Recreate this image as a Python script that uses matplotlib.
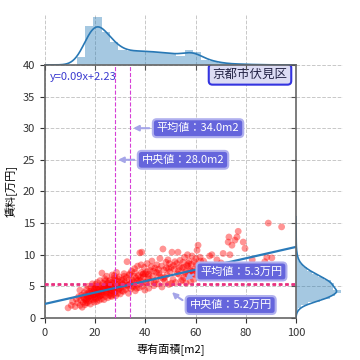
import numpy as np
import matplotlib
matplotlib.use('Agg')
import matplotlib.pyplot as plt

plt.rcParams['font.family'] = ['Noto Sans CJK JP', 'DejaVu Sans']

# 散布図データ (専有面積, 賃料)
area = [9.2, 10.5, 11.0, 12.0, 12.5, 13.0, 13.5, 13.9, 14.0, 14.3, 14.6, 14.8,
        15.2, 15.4, 15.6, 15.9, 16.1, 16.3, 16.5, 16.7, 16.9, 17.1, 17.2, 17.4,
        17.6, 17.8, 18.0, 18.1, 18.3, 18.5, 18.7, 18.9, 19.0, 19.2, 19.4, 19.6,
        19.8, 19.9, 20.0, 20.1, 20.3, 20.4, 20.6, 20.8, 20.9, 21.1, 21.2, 21.4,
        21.6, 21.7, 21.9, 22.0,
        22.2, 22.3, 22.5, 22.7, 22.8, 23.0, 23.1, 23.3, 23.5, 23.6, 23.8, 24.0,
        24.1, 24.3, 24.5, 24.6, 24.8, 25.0, 25.1, 25.3, 25.5, 25.6, 25.8, 26.0,
        26.1, 26.3, 26.5, 26.6, 26.8, 27.0, 27.2, 27.3, 27.5, 27.7, 27.9, 28.0,
        28.2, 28.4, 28.5, 28.7, 28.9, 29.1, 29.3, 29.5, 29.7,
        30.0, 30.3, 30.6, 30.9, 31.2, 31.5, 31.8, 32.1, 32.4, 32.7, 33.0, 33.3,
        33.6, 33.9, 34.2, 34.5, 34.8, 35.1, 35.4, 35.7, 36.0, 36.3, 36.6, 36.9,
        37.2, 37.5, 37.8, 38.1, 38.4, 38.6, 38.9, 39.2, 39.5, 39.8, 40.0,
        40.3, 40.7, 41.0, 41.4, 41.8, 42.2, 42.6, 43.0, 43.4, 43.8, 44.2, 44.6,
        45.0, 45.4, 45.8, 46.2, 46.6, 47.0, 47.4, 47.8, 48.2, 48.6, 49.0, 49.4,
        49.8, 50.2, 50.6, 51.0, 51.5, 52.0,
        52.5, 53.0, 53.4, 53.8, 54.2, 54.6, 55.0, 55.3, 55.6, 55.9, 56.2, 56.5,
        56.8, 57.1, 57.4, 57.7, 58.0, 58.3, 58.6, 58.9, 59.2, 59.5, 59.8, 60.1,
        60.6, 61.0, 61.4, 61.8, 62.2, 62.6,
        63.2, 63.8, 64.4, 65.0, 65.6, 66.5, 67.0, 67.8, 68.5, 69.3, 70.2, 71.0,
        72.0, 73.0, 73.7,
        73.3, 74.5, 75.7, 76.5, 77.0, 79.0, 79.7, 82.6, 87.6, 88.4, 89.0, 90.4, 94.3,
        # 密集部の追加
        15.8, 16.9, 17.9, 18.6, 19.3, 19.7, 20.5, 21.0, 21.5, 22.1, 22.6, 23.2,
        23.9, 24.4, 24.9, 25.4, 25.9, 26.4, 26.9, 27.4, 28.1, 28.8, 29.6, 30.5,
        31.4, 32.3, 33.5, 34.4, 35.6, 36.8, 38.0, 39.3, 41.2, 43.2, 45.2, 47.2,
        49.2, 51.2, 53.2, 55.2, 57.2, 59.0, 61.2,
        29.0, 30.8, 31.6, 32.8, 33.8, 34.9, 35.9, 36.5, 37.4, 38.3, 39.0, 39.9,
        40.6, 41.5, 42.4, 43.5, 44.4, 45.6, 46.4, 47.6, 48.4, 49.6, 50.4, 51.8,
        52.8, 53.6, 54.8, 56.0, 57.0, 58.2, 59.6, 60.4, 62.0, 64.0, 66.0,
        16.4, 18.4, 20.2, 22.4, 24.2, 26.2, 27.6]
rent = [1.6, 2.0, 2.6, 1.8, 3.0, 2.4, 3.4, 4.4, 2.0, 2.8, 3.6, 1.7,
        2.5, 3.2, 4.0, 2.1, 3.6, 2.8, 4.5, 3.0, 2.4, 3.9, 5.0, 3.3,
        2.7, 4.2, 3.5, 2.2, 4.8, 3.1, 4.0, 5.4, 2.9, 3.7, 4.4, 2.5,
        3.3, 5.0, 4.1, 3.0, 4.7, 3.6, 2.6, 5.6, 4.0, 3.2, 4.9, 3.8,
        2.8, 4.4, 5.9, 3.5,
        4.2, 5.1, 3.0, 7.1, 4.6, 3.7, 5.5, 4.0, 2.9, 4.9, 6.2, 3.4,
        4.4, 5.3, 3.9, 6.6, 4.7, 3.2, 5.0, 4.2, 5.8, 3.6, 4.5, 6.0,
        3.9, 5.2, 4.8, 3.4, 6.8, 4.3, 5.5, 3.7, 4.9, 6.3, 4.1, 5.4,
        3.5, 4.6, 7.2, 5.0, 3.9, 5.8, 4.4, 6.5, 5.1,
        3.8, 4.8, 6.0, 5.3, 4.2, 7.0, 5.6, 4.5, 6.4, 8.9, 5.0, 3.9,
        6.8, 5.4, 4.6, 7.4, 6.0, 4.9, 5.7, 7.8, 4.3, 6.3, 5.2, 8.2,
        6.7, 4.8, 10.3, 5.9, 7.2, 10.4, 5.0, 6.5, 8.0, 4.4, 7.0,
        5.6, 8.6, 6.2, 4.7, 7.5, 5.8, 9.0, 6.6, 5.1, 7.9, 6.0, 8.4,
        5.4, 7.1, 9.4, 6.4, 4.9, 10.9, 7.6, 5.8, 8.8, 6.8, 9.2, 5.3,
        7.3, 8.0, 10.4, 6.1, 7.7, 5.6,
        8.6, 10.4, 6.9, 9.1, 5.9, 7.9, 8.8, 6.4, 9.6, 7.3, 5.5, 8.3,
        10.0, 6.8, 9.0, 7.6, 5.8, 8.5, 9.8, 7.0, 6.1, 8.9, 7.8, 9.4,
        10.7, 11.5, 6.6, 9.6, 8.2, 7.2,
        9.0, 6.9, 8.4, 7.6, 9.8, 10.0, 8.0, 6.4, 9.2, 7.4, 8.7, 10.2,
        7.9, 12.0, 10.0,
        12.8, 11.5, 12.3, 12.8, 13.7, 12.0, 11.0, 9.2, 8.9, 9.6, 15.0, 9.5, 14.4,
        3.0, 3.4, 3.9, 4.3, 3.6, 4.6, 3.9, 4.5, 3.4, 4.8, 4.1, 4.5,
        5.0, 4.1, 5.5, 4.7, 5.0, 4.4, 5.7, 4.5, 6.0, 5.3, 4.7, 5.6,
        6.1, 5.2, 6.0, 5.6, 6.6, 5.9, 6.4, 7.0, 6.9, 7.4, 7.7, 6.2,
        7.8, 8.3, 7.5, 8.0, 8.6, 7.4, 8.0,
        6.2, 4.3, 6.6, 5.2, 7.0, 5.1, 7.2, 4.7, 6.0, 8.4, 6.9, 5.6,
        7.3, 6.5, 8.1, 5.6, 7.2, 6.8, 8.2, 6.4, 7.9, 8.6, 5.5, 8.9,
        7.0, 8.0, 6.0, 7.0, 8.2, 7.4, 6.9, 8.4, 9.0, 8.0, 7.0,
        2.4, 3.3, 5.3, 3.6, 5.9, 3.5, 6.7]

# 周辺ヒストグラム (読み取り値)
x_bin_edges = [12.7, 16.0, 19.3, 22.6, 25.9, 29.2, 32.5, 35.8, 39.1, 42.4, 45.7, 49.0,
               52.3, 55.6, 58.9, 62.2, 65.5, 68.8, 72.1, 75.4, 78.7, 82.0, 85.3, 88.6]
x_bin_counts = [8, 39, 48, 33, 23, 15, 14, 14, 14, 13, 12, 12,
                9, 15, 13, 5, 4, 2, 1, 1, 0.5, 0.3, 0.3]
y_bin_edges = [0.5, 1.0, 1.5, 2.0, 2.5, 3.0, 3.5, 4.0, 4.5, 5.0, 5.5, 6.0, 6.5, 7.0, 7.5,
               8.0, 8.5, 9.0, 9.5, 10.0, 10.5, 11.0, 11.5, 12.0, 12.5, 13.0, 13.5, 14.0,
               14.5, 15.0]
y_bin_counts = [0.5, 2, 5, 12, 24, 33, 38, 44, 36, 37, 34, 28, 22, 16, 11,
                7, 4, 2.5, 1.5, 1, 0.6, 0.4, 0.3, 0.3, 0.3, 0.2, 0.1, 0.2, 0.1]

slope, intercept = 0.09, 2.23
mean_area, median_area = 34.0, 28.0
mean_rent, median_rent = 5.3, 5.2
region = '京都市伏見区'


def hist_density(edges, counts):
    edges = np.array(edges)
    counts = np.array(counts, dtype=float)
    widths = np.diff(edges)
    return edges[:-1], widths, counts / (counts * widths).sum()


def weighted_kde(edges, counts, grid, bw):
    edges = np.array(edges)
    centers = (edges[:-1] + edges[1:]) / 2
    w = np.array(counts, dtype=float)
    w = w / w.sum()
    z = (grid[:, None] - centers[None, :]) / bw
    return (w[None, :] * np.exp(-0.5 * z ** 2)).sum(1) / (bw * np.sqrt(2 * np.pi))


fig = plt.figure(figsize=(3.6, 3.6), dpi=100)
ax = fig.add_axes([0.125, 0.1167, 0.697, 0.703])
ax_top = fig.add_axes([0.125, 0.8197, 0.697, 0.139], sharex=ax)
ax_right = fig.add_axes([0.822, 0.1167, 0.1306, 0.703], sharey=ax)

grid_kw = dict(color='#c8c8c8', linestyle='--', linewidth=0.7)
hist_color = '#1f77b4'
kde_color = '#2878b5'

# 散布図
ax.scatter(area, rent, s=24, color='red', alpha=0.42, edgecolors='none', zorder=2)

# 回帰直線
xs = np.array([0, 100])
ax.plot(xs, slope * xs + intercept, color='#2b7bba', lw=1.6, zorder=3)

# 平均・中央値の線
ax.axvline(median_area, color='#d63fd6', lw=0.8, ls='--', zorder=3)
ax.axvline(mean_area, color='#d63fd6', lw=0.8, ls='--', zorder=3)
ax.axhline(mean_rent, color='#e8307f', lw=1.3, ls='--', dashes=(2, 1.5), zorder=3)
ax.axhline(median_rent, color='#e8307f', lw=1.3, ls='--', dashes=(2, 1.5), zorder=3)

box = dict(boxstyle='round,pad=0.35', fc='#6565dc', ec='#b0b0ee', lw=1.5)
arrow = dict(arrowstyle='-|>', color='#a5a5e8', lw=1.5, mutation_scale=8)
ax.annotate('平均値：%.1fm2' % mean_area, xy=(mean_area, 30), xytext=(61, 30),
            fontsize=8, color='white', ha='center', va='center', bbox=box,
            arrowprops=arrow, zorder=5)
ax.annotate('中央値：%.1fm2' % median_area, xy=(median_area, 25), xytext=(55, 25),
            fontsize=8, color='white', ha='center', va='center', bbox=box,
            arrowprops=arrow, zorder=5)
ax.annotate('平均値：%.1f万円' % mean_rent, xy=(55, 5.7), xytext=(78.3, 7.35),
            fontsize=8, color='white', ha='center', va='center', bbox=box,
            arrowprops=dict(arrow, connectionstyle='arc3,rad=0.3'), zorder=5)
ax.annotate('中央値：%.1f万円' % median_rent, xy=(49.8, 4.4), xytext=(74, 2.05),
            fontsize=8, color='white', ha='center', va='center', bbox=box,
            arrowprops=dict(arrow, connectionstyle='arc3,rad=-0.3'), zorder=5)

ax.text(2, 38.1, 'y=%.2fx+%.2f' % (slope, intercept), color='#3b3bd0', fontsize=8,
        ha='left', va='center', zorder=5)
ax.text(81.7, 38.5, region, fontsize=9, color='#222244', ha='center', va='center',
        bbox=dict(boxstyle='round,pad=0.3', fc='#dcdcf4', ec='#3434e0', lw=1.5), zorder=5)

ax.set_xlim(0, 100)
ax.set_ylim(0, 40)
ax.set_xticks(range(0, 101, 20))
ax.set_yticks(range(0, 41, 5))
ax.grid(True, **grid_kw)
ax.set_axisbelow(True)
ax.set_xlabel('専有面積[m2]', fontsize=8)
ax.set_ylabel('賃料[万円]', fontsize=8)
ax.tick_params(labelsize=8, colors='#333333', length=3.5, width=0.8)
for side in ['top', 'right']:
    ax.spines[side].set_visible(False)
for side in ['left', 'bottom']:
    ax.spines[side].set_color('#666666')
    ax.spines[side].set_linewidth(1.2)

# 上の周辺分布
left, widths, dens = hist_density(x_bin_edges, x_bin_counts)
ax_top.bar(left, dens, width=widths, align='edge', color=hist_color, alpha=0.4, lw=0)
gx = np.linspace(0, 100, 400)
ax_top.plot(gx, weighted_kde(x_bin_edges, x_bin_counts, gx, 3.3), color=kde_color, lw=1.2)
ax_top.set_ylim(bottom=0)
ax_top.grid(True, axis='x', **grid_kw)
ax_top.set_axisbelow(True)
ax_top.tick_params(labelbottom=False, left=False, labelleft=False, length=3.5, width=0.8,
                   colors='#555555')
for side in ['top', 'right', 'left']:
    ax_top.spines[side].set_visible(False)
ax_top.spines['bottom'].set_color('#666666')
ax_top.spines['bottom'].set_linewidth(1.2)

# 右の周辺分布
bottom, heights, dens_y = hist_density(y_bin_edges, y_bin_counts)
ax_right.barh(bottom, dens_y, height=heights, align='edge', color=hist_color, alpha=0.4, lw=0)
gy = np.linspace(0, 16, 300)
ax_right.plot(weighted_kde(y_bin_edges, y_bin_counts, gy, 0.45), gy, color=kde_color, lw=1.2)
ax_right.set_xlim(left=0)
ax_right.grid(True, axis='y', **grid_kw)
ax_right.set_axisbelow(True)
ax_right.tick_params(labelleft=False, bottom=False, labelbottom=False, length=3.5, width=0.8,
                     colors='#555555')
for side in ['top', 'right', 'bottom']:
    ax_right.spines[side].set_visible(False)
ax_right.spines['left'].set_color('#666666')
ax_right.spines['left'].set_linewidth(1.2)

fig.savefig('out.png', dpi=100)
